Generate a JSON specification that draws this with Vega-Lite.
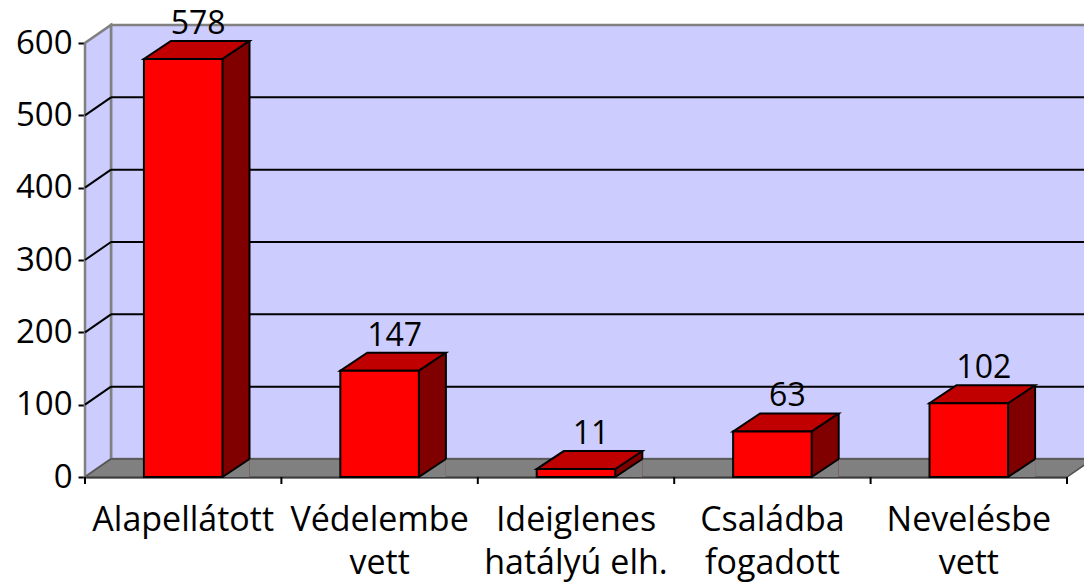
{
  "$schema": "https://vega.github.io/schema/vega-lite/v6.json",
  "width": 982,
  "height": 434,
  "autosize": {"type": "none"},
  "padding": {"left": 85, "top": 43, "right": 17, "bottom": 105},
  "background": "white",
  "config": {
    "view": {"stroke": null},
    "font": "Open Sans",
    "text": {"font": "Open Sans"},
    "axis": {
      "labelFont": "Open Sans",
      "labelColor": "black",
      "domainColor": "black",
      "domainWidth": 2,
      "tickColor": "black",
      "tickWidth": 2,
      "tickSize": 7,
      "grid": false,
      "zindex": 1
    }
  },
  "datasets": {
    "bars": [
      {"cat": "Alapellátott", "value": 578},
      {"cat": "Védelembe vett", "value": 147},
      {"cat": "Ideiglenes hatályú elh.", "value": 11},
      {"cat": "Családba fogadott", "value": 63},
      {"cat": "Nevelésbe vett", "value": 102}
    ],
    "grid": [{"v": 100}, {"v": 200}, {"v": 300}, {"v": 400}, {"v": 500}],
    "one": [{"k": 1}]
  },
  "resolve": {"scale": {"x": "independent"}},
  "layer": [
    {
      "data": {"name": "one"},
      "layer": [
        {
          "mark": {"type": "rect", "xOffset": 26, "x2Offset": 26, "yOffset": -18, "y2Offset": -18, "fill": "#CCCCFF", "stroke": "#808080", "strokeWidth": 2.5},
          "encoding": {
            "x": {"datum": 0, "type": "quantitative", "scale": {"domain": [0, 1], "nice": false, "zero": false}, "axis": null},
            "x2": {"datum": 1},
            "y": {"datum": 600, "type": "quantitative", "title": null, "scale": {"domain": [0, 600], "nice": false}, "axis": {"values": [0, 100, 200, 300, 400, 500, 600], "title": null, "labelPadding": 6, "labelFontSize": 33}},
            "y2": {"datum": 0}
          }
        },
        {
          "mark": {"type": "point", "shape": "M0,0 L0,-434 L26,-452 L26,-18 Z", "size": 4, "filled": true, "opacity": 1, "fill": "#CCCCFF", "stroke": "#808080", "strokeWidth": 2.5},
          "encoding": {
            "x": {"datum": 0, "type": "quantitative", "axis": null},
            "y": {"datum": 0, "type": "quantitative", "title": null}
          }
        },
        {
          "data": {"name": "grid"},
          "mark": {"type": "rule", "x2Offset": 26, "y2Offset": -18, "color": "black", "strokeWidth": 2},
          "encoding": {
            "x": {"datum": 0, "type": "quantitative", "axis": null},
            "x2": {"datum": 0},
            "y": {"field": "v", "type": "quantitative", "title": null},
            "y2": {"field": "v"}
          }
        },
        {
          "data": {"name": "grid"},
          "mark": {"type": "rule", "xOffset": 26, "x2Offset": 26, "yOffset": -18, "color": "black", "strokeWidth": 2},
          "encoding": {
            "x": {"datum": 0, "type": "quantitative", "axis": null},
            "x2": {"datum": 1},
            "y": {"field": "v", "type": "quantitative", "title": null}
          }
        },
        {
          "mark": {"type": "point", "shape": "M0,0 L26,-18 L1008,-18 L982,0 Z", "size": 4, "filled": true, "opacity": 1, "fill": "#808080", "stroke": "#505050", "strokeWidth": 1.5},
          "encoding": {
            "x": {"datum": 0, "type": "quantitative", "axis": null},
            "y": {"datum": 0, "type": "quantitative", "title": null}
          }
        },
        {
          "mark": {"type": "rule", "y2Offset": 7, "color": "black", "strokeWidth": 2},
          "encoding": {
            "x": {"datum": 1, "type": "quantitative", "axis": null},
            "y": {"datum": 0, "type": "quantitative", "title": null},
            "y2": {"datum": 0}
          }
        }
      ]
    },
    {
      "data": {"name": "bars"},
      "layer": [
        {
          "mark": {"type": "bar", "width": 27, "xOffset": 52.8, "yOffset": -18, "fill": "#800000", "strokeWidth": 0},
          "encoding": {
            "x": {"field": "cat", "type": "nominal", "sort": null, "title": null, "scale": {"paddingInner": 0, "paddingOuter": 0}},
            "y": {"field": "value", "type": "quantitative", "title": null},
            "y2": {"datum": 0}
          }
        },
        {
          "mark": {"type": "point", "shape": "M39.3,0 L66.3,0 L66.3,-18 Z", "size": 4, "filled": true, "opacity": 1, "fill": "#808080", "strokeWidth": 0},
          "encoding": {
            "x": {"field": "cat", "type": "nominal", "sort": null, "title": null},
            "y": {"datum": 0, "type": "quantitative", "title": null}
          }
        },
        {
          "mark": {"type": "rule", "xOffset": 66.3, "yOffset": -18, "y2Offset": -18, "color": "black", "strokeWidth": 2},
          "encoding": {
            "x": {"field": "cat", "type": "nominal", "sort": null, "title": null},
            "y": {"field": "value", "type": "quantitative", "title": null},
            "y2": {"datum": 0}
          }
        },
        {
          "mark": {"type": "point", "shape": "M39.3,0 L66.3,-18", "size": 4, "filled": false, "opacity": 1, "stroke": "black", "strokeWidth": 2},
          "encoding": {
            "x": {"field": "cat", "type": "nominal", "sort": null, "title": null},
            "y": {"datum": 0, "type": "quantitative", "title": null}
          }
        },
        {
          "mark": {"type": "point", "shape": "M-39.3,0 L39.3,0 L66.3,-18 L-12.3,-18 Z", "size": 4, "filled": true, "opacity": 1, "fill": "#C00000", "stroke": "black", "strokeWidth": 2},
          "encoding": {
            "x": {"field": "cat", "type": "nominal", "sort": null, "title": null},
            "y": {"field": "value", "type": "quantitative", "title": null}
          }
        },
        {
          "mark": {"type": "bar", "width": {"band": 0.4}, "fill": "#FF0000", "stroke": "black", "strokeWidth": 2},
          "encoding": {
            "x": {
              "field": "cat", "type": "nominal", "sort": null, "title": null,
              "axis": {
                "title": null,
                "labelAngle": 0,
                "labelAlign": "center",
                "ticks": false,
                "labelFontSize": 34,
                "labelLimit": 0,
                "labelExpr": "split(replace(datum.value, ' ', '\\n'), '\\n')",
                "labelLineHeight": 43,
                "labelPadding": 43,
                "labelOverlap": false,
                "labelFlush": false,
                "labelBound": false
              }
            },
            "y": {"field": "value", "type": "quantitative", "title": null},
            "y2": {"datum": 0}
          }
        },
        {
          "mark": {"type": "rule", "xOffset": -98.2, "y2Offset": 7, "color": "black", "strokeWidth": 2},
          "encoding": {
            "x": {"field": "cat", "type": "nominal", "sort": null, "title": null},
            "y": {"datum": 0, "type": "quantitative", "title": null},
            "y2": {"datum": 0}
          }
        },
        {
          "mark": {"type": "text", "dx": 15, "dy": -35, "fontSize": 32, "font": "Open Sans", "color": "black", "baseline": "middle"},
          "encoding": {
            "x": {"field": "cat", "type": "nominal", "sort": null, "title": null},
            "y": {"field": "value", "type": "quantitative", "title": null},
            "text": {"field": "value", "type": "quantitative"}
          }
        }
      ]
    }
  ]
}
